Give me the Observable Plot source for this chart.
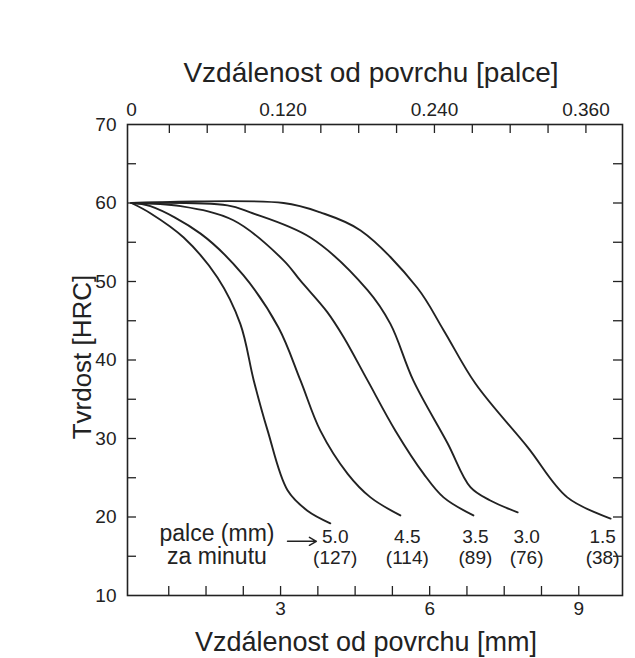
<!DOCTYPE html>
<html><head><meta charset="utf-8">
<script src="https://cdn.jsdelivr.net/npm/d3@7"></script>
<script src="https://cdn.jsdelivr.net/npm/@observablehq/plot@0.6"></script>
<style>body{margin:0;background:#fff} svg{display:block}</style>
</head><body><div id="chart"></div>
<script>
// Cooling rates (labels)
const rates = ["5.0", "4.5", "3.5", "3.0", "1.5"];
const ratesMm = ["(127)", "(114)", "(89)", "(76)", "(38)"];
// Hardness profiles: distance [mm] vs hardness [HRC]
const x50 = [0, 0.38, 1.05, 1.73, 2.19, 2.46, 2.74, 3.14, 3.54, 4.00];
const y50 = [60, 58.7, 55.6, 50.5, 44.6, 37.4, 31.0, 23.4, 20.8, 19.2];
const x45 = [0, 0.38, 1.39, 2.25, 2.96, 3.40, 3.80, 4.35, 4.81, 5.41];
const y45 = [60, 59.6, 56.1, 50.8, 44.1, 37.4, 31.0, 25.5, 22.5, 20.2];
const x35 = [0, 0.99, 2.05, 3.06, 3.40, 3.94, 4.27, 4.75, 5.31, 5.88, 6.28, 6.88];
const y35 = [60, 59.6, 57.8, 52.7, 50.1, 46.1, 42.9, 37.4, 31.0, 25.5, 22.5, 20.2];
const x30 = [0, 1.93, 2.39, 3.60, 4.75, 5.21, 5.67, 6.36, 6.82, 7.22, 7.77];
const y30 = [60, 59.7, 58.8, 55.6, 48.9, 44.6, 37.4, 29.4, 23.8, 22.1, 20.6];
const x15 = [0, 3.06, 3.80, 4.61, 5.75, 6.28, 6.92, 7.97, 8.77, 9.64];
const y15 = [60, 60, 58.8, 56.5, 49.2, 43.8, 37.0, 28.9, 22.5, 19.8];
// Label anchor positions (data units)
const labelX = [4.10, 5.55, 6.92, 7.95, 9.48];
const labelRowIn = 17.5, labelRowMm = 14.8;
const legendX = 1.72;
const legendLines = ["palce (mm)", "za minutu"];
const legendRows = [17.9, 14.9];
const arrowSpec = [{x1: 3.14, x2: 3.72, y: 16.9}];
// Ticks
const bottomTickLabels = [3, 6, 9];
const bottomMinor = [0.75, 1.5, 2.25, 3, 3.75, 4.5, 5.25, 6, 6.75, 7.5, 8.25, 9];
const topTickLabelsIn = [0, 0.12, 0.24, 0.36];
const topMinorIn = [0.03, 0.06, 0.09, 0.12, 0.15, 0.18, 0.21, 0.24, 0.27, 0.30, 0.33, 0.36];
const yTickLabels = [10, 20, 30, 40, 50, 60, 70];
const yMinor = [15, 20, 25, 30, 35, 40, 45, 50, 55, 60, 65];
const MM_PER_IN = 25.4;

const xs = [x50, x45, x35, x30, x15];
const ys = [y50, y45, y35, y30, y15];
const data = [];
rates.forEach((r, i) => xs[i].forEach((x, j) => data.push({rate: r, x, y: ys[i][j]})));

const W = 635, H = 658, mL = 127, mR = 13, mT = 124, mB = 63;
const pw = W - mL - mR, ph = H - mT - mB;
const ink = "#222";

const chart = Plot.plot({
  width: W, height: H,
  marginLeft: mL, marginRight: mR, marginTop: mT, marginBottom: mB,
  x: {domain: [-0.08, 9.88]},
  y: {domain: [10, 70]},
  style: {fontFamily: "'Liberation Sans', Arial, Helvetica, sans-serif", fontSize: "19px", color: ink, background: "#fff"},
  marks: [
    Plot.frame({stroke: ink, strokeWidth: 1.6}),
    // inward ticks
    Plot.tickX(bottomMinor, {x: d => d, insetTop: ph - 9, stroke: ink, strokeWidth: 1.3}),
    Plot.tickX(topMinorIn.map(v => v * MM_PER_IN), {x: d => d, insetBottom: ph - 9, stroke: ink, strokeWidth: 1.3}),
    Plot.tickY(yMinor, {y: d => d, insetRight: pw - 9, stroke: ink, strokeWidth: 1.3}),
    Plot.tickY(yMinor, {y: d => d, insetLeft: pw - 9, stroke: ink, strokeWidth: 1.3}),
    // axes labels
    Plot.axisX({anchor: "bottom", ticks: bottomTickLabels, tickSize: 0, tickPadding: 6, label: null, fill: ink}),
    Plot.axisX({anchor: "top", ticks: topTickLabelsIn.map(v => v * MM_PER_IN), tickSize: 0, tickPadding: 9, label: null, fill: ink,
      tickFormat: d => { const v = d / MM_PER_IN; return v < 1e-9 ? "0" : v.toFixed(3); }}),
    Plot.axisY({ticks: yTickLabels, tickSize: 0, tickPadding: 11, label: null, fill: ink}),
    // curves
    Plot.line(data, {x: "x", y: "y", z: "rate", curve: "catmull-rom", stroke: ink, strokeWidth: 1.9}),
    // curve labels
    Plot.text(rates, {x: (d, i) => labelX[i], y: () => labelRowIn, text: d => d, fontSize: 19, fill: ink}),
    Plot.text(ratesMm, {x: (d, i) => labelX[i], y: () => labelRowMm, text: d => d, fontSize: 19, fill: ink}),
    Plot.text(legendLines, {x: () => legendX, y: (d, i) => legendRows[i], text: d => d, fontSize: 23, fill: ink}),
    Plot.arrow(arrowSpec, {x1: "x1", x2: "x2", y1: "y", y2: "y", stroke: ink, strokeWidth: 1.5, headLength: 8}),
    // titles
    Plot.text(["Vzdálenost od povrchu [palce]"], {frameAnchor: "top", lineAnchor: "middle", textAnchor: "middle", dy: -51, dx: -4, fontSize: 28, fill: ink}),
    Plot.text(["Vzdálenost od povrchu [mm]"], {frameAnchor: "bottom", lineAnchor: "middle", textAnchor: "middle", dy: 47, dx: -9, fontSize: 27, fill: ink}),
    Plot.text(["Tvrdost [HRC]"], {frameAnchor: "left", lineAnchor: "middle", textAnchor: "middle", rotate: -90, dx: -45, dy: -3, fontSize: 26, fill: ink})
  ]
});
document.getElementById("chart").append(chart);
</script>
</body></html>
